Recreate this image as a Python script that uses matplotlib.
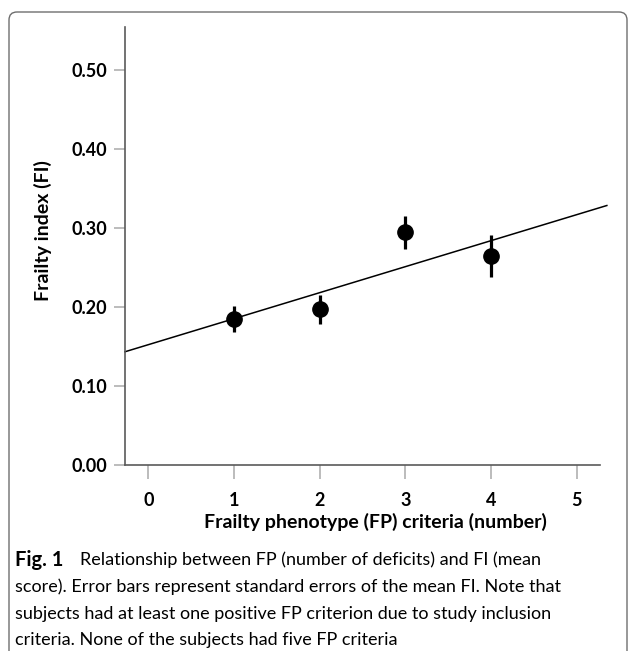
import matplotlib
matplotlib.use("Agg")
import matplotlib.pyplot as plt
from matplotlib.patches import FancyBboxPatch
import numpy as np

# Dados
fp_criteria = [1, 2, 3, 4]
fi_mean = [0.185, 0.197, 0.295, 0.265]
fi_err_low = [0.017, 0.019, 0.021, 0.027]
fi_err_high = [0.016, 0.018, 0.020, 0.026]
x_ticks = [0, 1, 2, 3, 4, 5]
y_ticks = [0.00, 0.10, 0.20, 0.30, 0.40, 0.50]
reg_intercept = 0.152
reg_slope = 0.033

caption_lines = [
    "Relationship between FP (number of deficits) and FI (mean",
    "score). Error bars represent standard errors of the mean FI. Note that",
    "subjects had at least one positive FP criterion due to study inclusion",
    "criteria. None of the subjects had five FP criteria",
]

W, H = 630, 651
fig = plt.figure(figsize=(W / 100, H / 100), dpi=100)

def px(x, y):
    # pixel (from top-left) -> figure fraction
    return x / W, 1 - y / H

ax = fig.add_axes([125 / W, 1 - 464.5 / H, (600 - 125) / W, (464.5 - 27) / H])
ax.set_xlim(-0.272, 5.27)
ax.set_ylim(0, 0.555)

# linha de regressao
xr = np.array([-0.272, 5.35])
ax.plot(xr, reg_intercept + reg_slope * xr, color="black", lw=1.1, clip_on=False, zorder=2)

ax.errorbar(fp_criteria, fi_mean, yerr=[fi_err_low, fi_err_high], fmt="o", color="black",
            markersize=11, elinewidth=2.3, capsize=0, zorder=3)

for s in ["top", "right"]:
    ax.spines[s].set_visible(False)
for s in ["left", "bottom"]:
    ax.spines[s].set_color("#5a5a5a")
    ax.spines[s].set_linewidth(1.2)

ax.set_xticks(x_ticks)
ax.set_yticks(y_ticks)
ax.set_yticklabels([f"{v:.2f}" for v in y_ticks])
ax.tick_params(axis="both", direction="out", color="#b0b0b0", width=1.2)
ax.tick_params(axis="y", length=8, pad=5)
ax.tick_params(axis="x", length=10, pad=10)
for lab in ax.get_xticklabels() + ax.get_yticklabels():
    lab.set_fontfamily("Lato")
    lab.set_fontweight("bold")
    lab.set_fontsize(13)

fig.text(*px(43, 231), "Frailty index (FI)", rotation=90, ha="center", va="center",
         family="Lato", fontweight="bold", fontsize=14)
fig.text(*px(375, 522), "Frailty phenotype (FP) criteria (number)", ha="center", va="center",
         family="Lato", fontweight="bold", fontsize=14)

# legenda da figura
ys = [560, 587, 614, 640]
fig.text(*px(15, ys[0]), "Fig. 1", ha="left", va="center", family="Lato",
         fontweight="bold", fontsize=14.5)
fig.text(*px(80, ys[0]), caption_lines[0], ha="left", va="center", family="Lato", fontsize=13)
for ln, y in zip(caption_lines[1:], ys[1:]):
    fig.text(*px(15, y), ln, ha="left", va="center", family="Lato", fontsize=13)

# moldura arredondada
box = FancyBboxPatch((9 / 100, -0.5), (627 - 9) / 100, (H - 12) / 100 + 0.5,
                     boxstyle="round,pad=0,rounding_size=0.08",
                     transform=fig.dpi_scale_trans, fill=False,
                     edgecolor="#6e6e6e", lw=1.0, clip_on=False)
fig.patches.append(box)

fig.savefig("out.png", dpi=100)
